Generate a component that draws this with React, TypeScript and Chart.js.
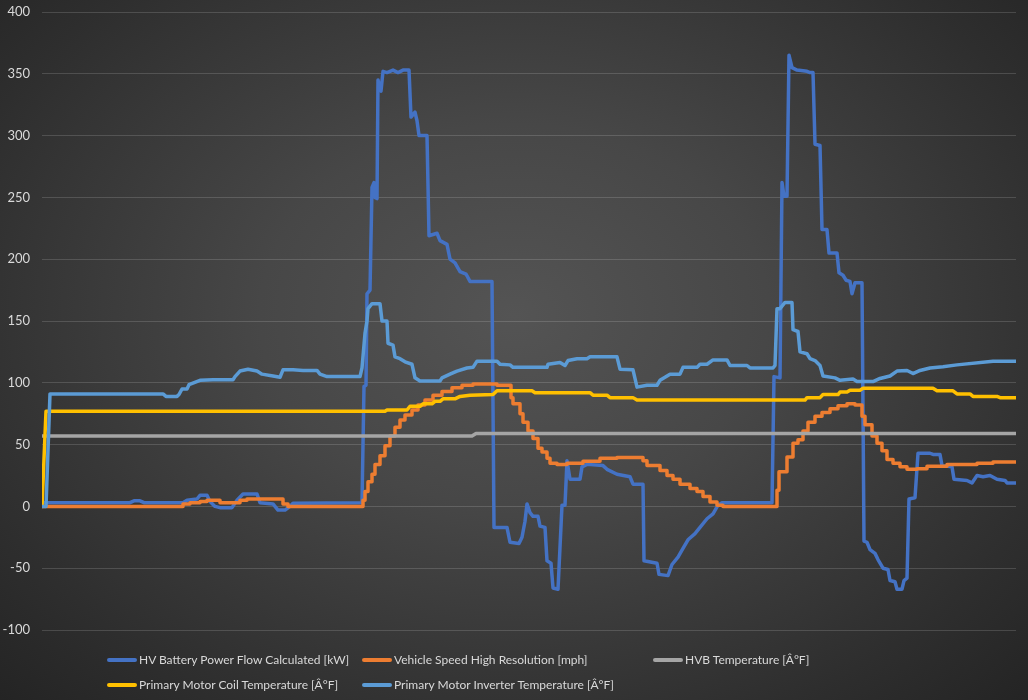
import React, { useEffect, useRef } from 'react';
import { Chart, registerables } from 'chart.js';

Chart.register(...registerables);

// Time axis: sample ticks from start of log
const batteryT = [0, 88, 92, 98, 102, 141, 145, 155, 158, 165, 168, 173, 178, 190, 195, 201, 215, 218, 231, 236, 243, 248, 251, 320, 322, 324, 325, 328, 330, 332, 333, 335, 336, 338, 339, 341, 345, 351, 356, 361, 367, 369, 373, 375, 377, 385, 387, 395, 398, 405, 408, 413, 418, 424, 428, 450, 452, 465, 468, 477, 480, 483, 485, 488, 491, 496, 498, 503, 505, 509, 511, 516, 520, 523, 525, 528, 538, 540, 545, 561, 565, 575, 588, 591, 601, 602, 615, 617, 626, 630, 636, 641, 646, 653, 658, 665, 671, 676, 680, 730, 732, 738, 740, 742, 745, 747, 750, 755, 765, 768, 771, 773, 778, 780, 785, 787, 795, 797, 801, 804, 808, 810, 813, 820, 822, 825, 828, 833, 836, 841, 846, 848, 853, 855, 860, 862, 865, 867, 873, 876, 888, 891, 898, 900, 910, 912, 925, 930, 935, 941, 948, 955, 963, 965, 974];
const batteryKW = [3, 3, 4.5, 4.5, 3, 3, 5, 6, 9, 9, 4, 0, -1, -1, 5, 10, 10, 3, 2, -3, -3, 0, 2.5, 3, 97, 98, 172, 175, 258, 262, 250, 249, 345, 338, 336, 352, 351, 353, 351, 353, 353, 315, 319, 312, 300, 300, 219, 221, 215, 212, 200, 197, 190, 188, 182, 182, -17, -17, -29, -30, -25, -12, 2, -5, -8, -8, -16, -17, -44, -46, -66, -67, 1, 1, 37, 22, 22, 32, 34, 33, 30, 26, 24, 18, 18, -44, -46, -55, -56, -47, -41, -34, -27, -22, -17, -10, -6, 1, 3, 3, 105, 104, 262, 251, 251, 365, 355, 353, 352, 351, 351, 293, 292, 224, 224, 205, 205, 189, 187, 183, 182, 172, 181, 181, -28, -29, -35, -38, -43, -50, -51, -60, -61, -67, -67, -60, -58, 6, 7, 43, 43, 42, 42, 33, 32, 22, 21, 19, 25, 24, 25, 22, 21, 19, 19];

const speedT = [0, 141, 148, 158, 165, 171, 178, 183, 198, 205, 213, 241, 246, 251, 321, 323, 326, 330, 333, 338, 343, 348, 353, 358, 363, 370, 376, 383, 391, 400, 410, 420, 431, 441, 455, 465, 469, 471, 478, 481, 486, 491, 496, 500, 505, 508, 515, 525, 541, 558, 575, 601, 605, 618, 625, 631, 638, 648, 655, 661, 668, 675, 681, 695, 735, 737, 745, 751, 756, 761, 766, 773, 780, 788, 796, 805, 813, 820, 823, 830, 835, 840, 845, 851, 858, 865, 875, 885, 905, 935, 951, 974];
const speedMph = [0, 0, 2, 3, 4, 5, 5, 3, 3, 5, 6, 6, 2, 0, 0, 5, 12, 20, 26, 34, 41, 49, 57, 64, 70, 74, 78, 82, 86, 90, 93, 96, 98, 99, 99, 98, 98, 88, 83, 75, 68, 61, 55, 47, 44, 39, 35, 34, 35, 36.5, 39, 39.5, 37, 33, 29, 25, 22, 18, 14.5, 12, 8, 3.5, 1, 0, 0, 13, 28, 40, 51, 54, 61, 68, 73, 76, 79, 81.5, 83, 82, 73, 66, 57, 51, 45, 38, 35, 32, 30, 30.5, 32.5, 34, 35, 36];

const hvbT = [0, 430, 434, 974];
const hvbTempF = [57, 57, 59, 59];

const coilT = [0, 4, 343, 345, 365, 368, 378, 381, 390, 393, 398, 401, 413, 418, 428, 451, 455, 490, 493, 548, 551, 565, 568, 591, 595, 763, 765, 778, 781, 796, 798, 805, 808, 818, 821, 891, 895, 911, 915, 928, 931, 955, 958, 974];
const coilTempF = [0, 77, 77, 78, 78, 81, 81, 83, 83, 85, 85, 87, 87, 89, 90, 90.5, 93.5, 93.5, 92, 92, 90, 90, 88, 88, 86, 86, 88, 88, 90.5, 90.5, 92.5, 92.5, 94, 94, 95.5, 95.5, 93.5, 93.5, 91, 91, 89, 89, 88, 88];

const inverterT = [0, 4, 8, 121, 124, 135, 137, 140, 145, 147, 158, 171, 191, 193, 198, 206, 215, 220, 231, 238, 241, 251, 261, 275, 278, 285, 318, 320, 323, 325, 326, 330, 338, 340, 345, 346, 351, 353, 358, 363, 370, 373, 378, 398, 400, 408, 415, 425, 431, 435, 455, 458, 468, 471, 505, 506, 518, 523, 526, 535, 545, 548, 575, 578, 591, 595, 605, 615, 618, 628, 638, 641, 655, 658, 665, 671, 685, 688, 705, 708, 718, 731, 733, 735, 738, 743, 750, 751, 756, 758, 765, 768, 773, 778, 781, 793, 798, 811, 815, 831, 838, 848, 855, 865, 871, 878, 888, 901, 915, 951, 974];
const inverterTempF = [0, 0, 91, 91, 89, 89, 90.5, 95, 95, 98.5, 102, 102.5, 102.5, 105, 109.5, 111, 109.5, 107, 105.5, 104.5, 110.5, 110.5, 110, 110, 107, 105, 105, 112, 140, 150, 160, 164, 164, 150, 150, 132, 130.5, 121, 119.5, 117, 115, 104, 101.5, 101.5, 104, 107, 109.5, 112, 112.5, 117.5, 117.5, 115, 114.5, 112.5, 112.5, 115, 116.5, 114, 118, 119.5, 119.5, 121, 121, 111, 110.5, 96.5, 98, 98, 102, 107, 107, 112.5, 112.5, 115, 115, 118.5, 118.5, 114, 114, 112, 112, 112, 114, 160, 160, 165, 165, 143, 141.5, 125, 123.5, 119.5, 118, 114, 105.5, 104, 102, 103, 101, 101, 103.5, 105.5, 109.5, 110, 107.5, 110, 112, 113, 114.5, 117.5, 117.5];

const seriesNames = [
  'HV Battery Power Flow Calculated [kW]',
  'Vehicle Speed High Resolution [mph]',
  'HVB Temperature [Â°F]',
  'Primary Motor Coil Temperature [Â°F]',
  'Primary Motor Inverter Temperature [Â°F]',
];
const seriesColors = ['#4472C4', '#ED7D31', '#A5A5A5', '#FFC000', '#5B9BD5'];
const seriesStepped = [false, 'after', false, false, false];

const yMin = -100;
const yMax = 400;
const yStep = 50;

const FONT = 'Lato, "Liberation Sans", sans-serif';

export default function App() {
  const ref = useRef<HTMLCanvasElement>(null);

  useEffect(() => {
    const pts = (t: number[], v: number[]) => t.map((x, i) => ({ x, y: v[i] }));
    const sets = [
      pts(batteryT, batteryKW),
      pts(speedT, speedMph),
      pts(hvbT, hvbTempF),
      pts(coilT, coilTempF),
      pts(inverterT, inverterTempF),
    ];
    const chart = new Chart(ref.current as HTMLCanvasElement, {
      type: 'line',
      data: {
        datasets: sets.map((d, i) => ({
          label: seriesNames[i],
          data: d,
          borderColor: seriesColors[i],
          backgroundColor: seriesColors[i],
          borderWidth: 3.5,
          pointRadius: 0,
          fill: false,
          tension: 0,
          stepped: seriesStepped[i],
          order: 5 - i,
        })),
      },
      options: {
        responsive: false,
        animation: false,
        devicePixelRatio: 1,
        layout: { padding: { left: 0, right: 12, top: 12, bottom: 70 } },
        elements: { line: { borderJoinStyle: 'round', borderCapStyle: 'round' } },
        plugins: { legend: { display: false }, tooltip: { enabled: false } },
        scales: {
          x: { type: 'linear', display: false, min: 0, max: 974 },
          y: {
            min: yMin,
            max: yMax,
            ticks: { stepSize: yStep, color: '#d9d9d9', font: { family: FONT, size: 13 }, padding: 12 },
            grid: { color: 'rgba(255,255,255,0.15)', drawTicks: false, lineWidth: 1 },
            border: { display: false },
            afterFit: (s: any) => {
              s.width = 42;
              s.paddingTop = 0;
              s.paddingBottom = 0;
            },
          },
        },
      },
    } as any);
    return () => chart.destroy();
  }, []);

  return (
    <div
      style={{
        position: 'fixed',
        left: 0,
        top: 0,
        width: 1028,
        height: 700,
        overflow: 'hidden',
        background:
          'radial-gradient(ellipse farthest-corner at 50% 45%, #545454 0%, #474747 35%, #2e2e2e 80%, #242424 100%)',
      }}
    >
      <canvas ref={ref} width={1028} height={700} style={{ position: 'absolute', left: 0, top: 0, display: 'block' }} />
      <div
        style={{
          position: 'absolute',
          left: 107,
          top: 647,
          display: 'grid',
          gridTemplateColumns: '255px 291px auto',
          fontFamily: FONT,
          fontSize: 12,
          color: '#d9d9d9',
        }}
      >
        {seriesNames.map((n, i) => (
          <div key={n} style={{ height: 25, display: 'flex', alignItems: 'center', whiteSpace: 'nowrap' }}>
            <span style={{ width: 30, height: 4, borderRadius: 2, background: seriesColors[i], marginRight: 2, display: 'inline-block' }} />
            <span>{n}</span>
          </div>
        ))}
      </div>
    </div>
  );
}
